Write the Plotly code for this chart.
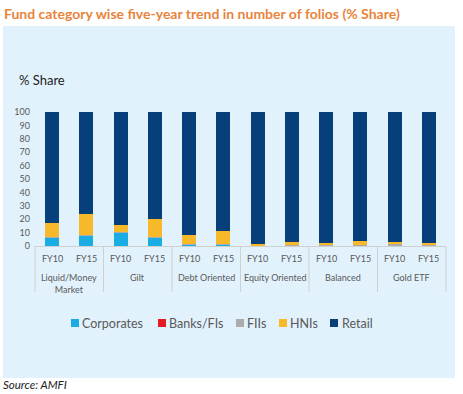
import plotly.graph_objects as go

group_names = ["Liquid/Money<br>Market", "Gilt", "Debt Oriented",
               "Equity Oriented", "Balanced", "Gold ETF"]
year_labels = ["FY10", "FY15"]

corporates = [6.0, 7.5, 10.0, 6.0, 1.0, 1.0, 0.3, 0.3, 0.3, 0.3, 0.3, 0.2]
banks = [0.2, 0.1, 0.1, 0.1, 0.2, 0.1, 0.0, 0.0, 0.0, 0.0, 0.0, 0.0]
fiis = [0.5, 0.5, 0.2, 0.5, 0.3, 0.3, 0.2, 0.2, 0.5, 0.2, 1.2, 0.2]
hnis = [10.3, 15.9, 5.2, 13.9, 6.5, 9.6, 0.8, 2.3, 1.2, 3.3, 1.5, 1.6]
retail = [83.0, 76.0, 84.5, 79.5, 92.0, 89.0, 98.7, 97.2, 98.0, 96.2, 97.0, 98.0]

series_names = ["Corporates", "Banks/FIs", "FIIs", "HNIs", "Retail"]
series_vals = [corporates, banks, fiis, hnis, retail]
series_colors = ["#1AADE4", "#E31B23", "#ABABAB", "#F7B82A", "#063F7A"]

keys = [f"{g} {y}" for g in group_names for y in year_labels]
key_years = [y for g in group_names for y in year_labels]

fig = go.Figure()
for name, vals, col in zip(series_names, series_vals, series_colors):
    fig.add_trace(go.Bar(x=keys, y=vals, name=name,
                         marker=dict(color=col, line=dict(width=0))))

W, H = 463, 394
ml, mr, mt, mb = 35, 17, 112, 148
pw, ph = W - ml - mr, H - mt - mb

def px_x(p):
    return (p - ml) / pw

def px_y(p):
    return (H - mb - p) / ph

FONT = "Lato, Open Sans, sans-serif"
GRID = "#D0D0D0"
TXT = "#595959"

fig.update_layout(
    width=W, height=H, barmode="stack", bargap=0.59,
    margin=dict(l=ml, r=mr, t=mt, b=mb),
    paper_bgcolor="white", plot_bgcolor="rgba(0,0,0,0)",
    font=dict(family=FONT, color=TXT, size=9),
    showlegend=False,
    xaxis=dict(type="category", showline=True, linecolor=GRID, linewidth=1,
               showticklabels=False, ticks="", showgrid=False),
    yaxis=dict(range=[0, 100], dtick=10, showgrid=False, zeroline=False,
               showline=False, tickfont=dict(size=9, color=TXT),
               ticks="", ticklabelstandoff=4),
)

fig.add_shape(type="rect", xref="paper", yref="paper",
              x0=px_x(3), x1=px_x(455), y0=px_y(378), y1=px_y(26),
              fillcolor="#E1F2FC", line=dict(width=0), layer="below")

# category axis: year labels, group labels, dividers
for k, y in zip(keys, key_years):
    fig.add_annotation(text=y, xref="x", yref="paper", x=k, y=px_y(258),
                       xanchor="center", yanchor="middle", showarrow=False,
                       font=dict(size=9, color=TXT, family=FONT))
ng = len(group_names)
for j, g in enumerate(group_names):
    fig.add_annotation(text=g, xref="paper", yref="paper",
                       x=(j + 0.5) / ng, y=px_y(270), xanchor="center",
                       yanchor="top", showarrow=False, align="center",
                       font=dict(size=9, color=TXT, family=FONT))
for j in range(ng + 1):
    fig.add_shape(type="line", xref="paper", yref="paper",
                  x0=j / ng, x1=j / ng, y0=px_y(246), y1=px_y(292),
                  line=dict(color=GRID, width=1))

# legend (drawn manually to match compact spacing)
legend_sq = [71, 158, 236, 279, 330]
legend_tx = [82, 169, 247, 290, 342]
ly = 323
for name, col, sx, tx in zip(series_names, series_colors, legend_sq, legend_tx):
    fig.add_shape(type="rect", xref="paper", yref="paper",
                  x0=px_x(sx), x1=px_x(sx + 8), y0=px_y(ly + 4), y1=px_y(ly - 4),
                  fillcolor=col, line=dict(width=0))
    fig.add_annotation(text=name, xref="paper", yref="paper",
                       x=px_x(tx), y=px_y(ly), xanchor="left", yanchor="middle",
                       showarrow=False, xshift=-2,
                       font=dict(size=12.5, color=TXT, family=FONT))

fig.add_annotation(text="<b>Fund category wise five-year trend in number of folios (% Share)</b>",
                   xref="paper", yref="paper", x=px_x(2), y=px_y(13),
                   xanchor="left", yanchor="middle", showarrow=False,
                   font=dict(size=14, color="#E8843C", family=FONT))
fig.add_annotation(text="% Share", xref="paper", yref="paper",
                   x=px_x(17), y=px_y(80), xanchor="left", yanchor="middle",
                   showarrow=False, font=dict(size=13, color="#222222", family=FONT))
fig.add_annotation(text="<i>Source: AMFI</i>", xref="paper", yref="paper",
                   x=px_x(1), y=px_y(384), xanchor="left", yanchor="middle",
                   showarrow=False, font=dict(size=11.5, color="#222222", family=FONT))

fig.write_html("out.html", config={"displayModeBar": False},
               post_script="document.body.style.margin='0';document.body.style.overflow='hidden';")
